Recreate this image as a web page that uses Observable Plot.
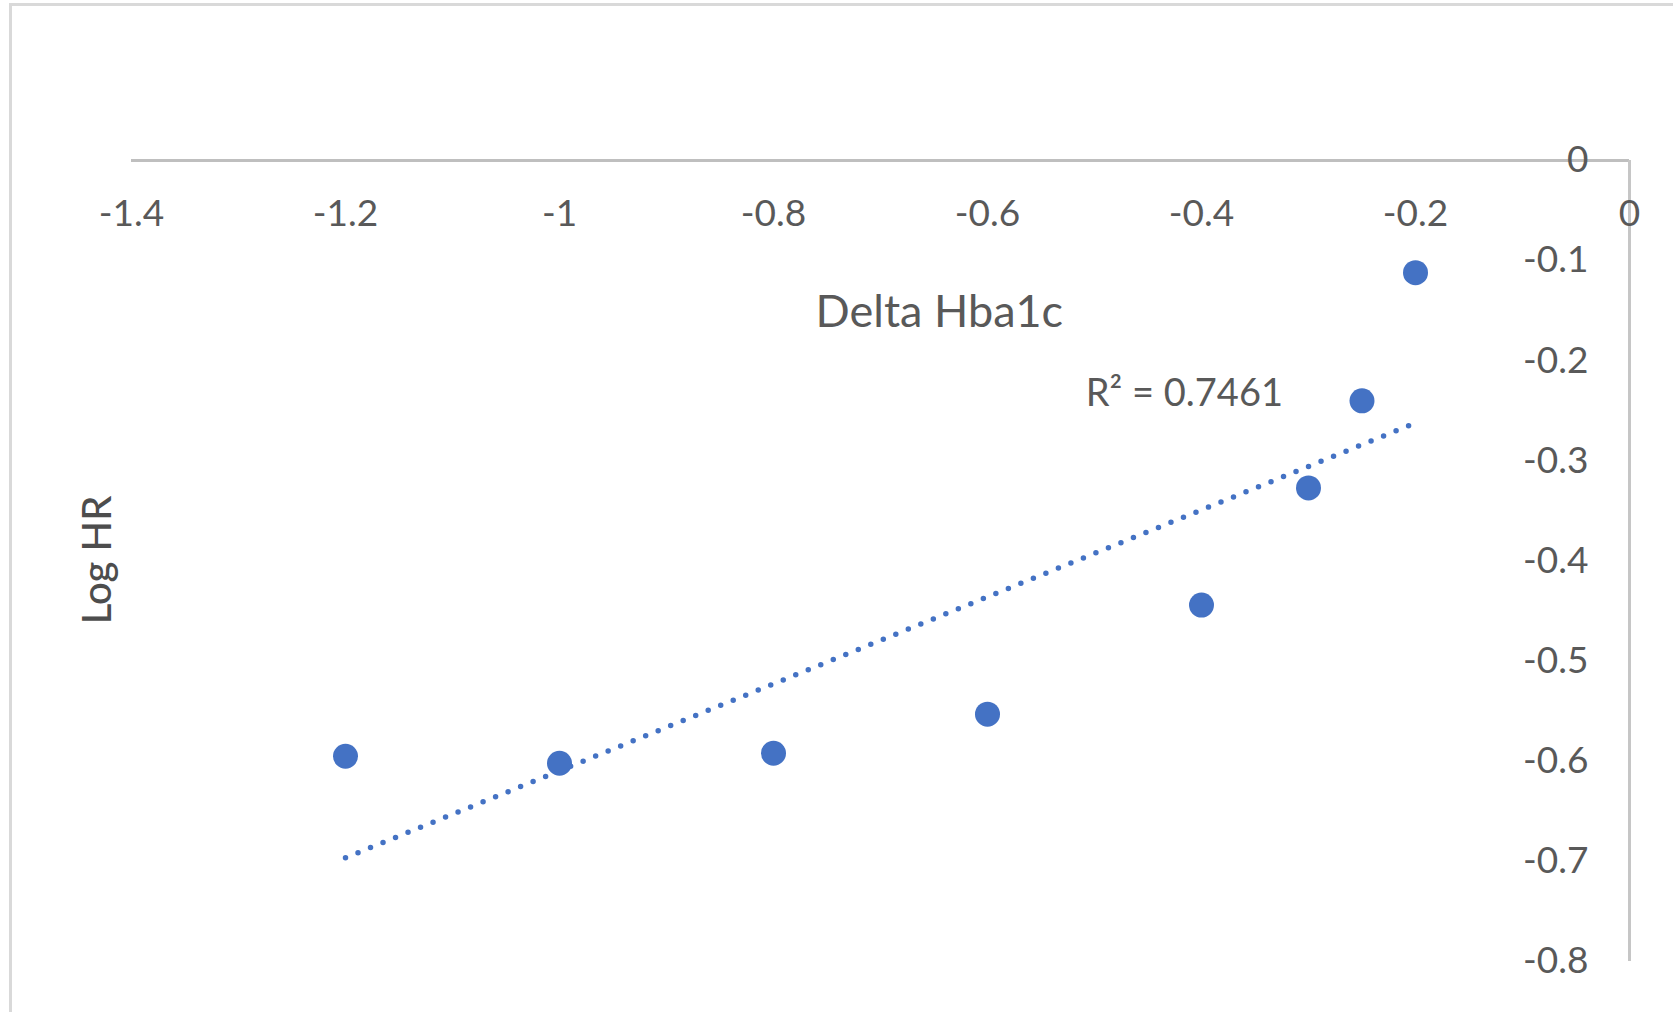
<!DOCTYPE html>
<html>
<head>
<meta charset="utf-8">
<script src="https://cdn.jsdelivr.net/npm/d3@7"></script>
<script src="https://cdn.jsdelivr.net/npm/@observablehq/plot@0.6"></script>
<style>
  html, body { margin: 0; padding: 0; background: #fff; overflow: hidden; }
  #wrap { position: relative; width: 1673px; height: 1012px; }
  #border { position: absolute; left: 9px; top: 3px; width: 1700px; height: 1100px;
            border-left: 3px solid #d9d9d9; border-top: 3px solid #d9d9d9; box-sizing: border-box; }
  svg { position: absolute; left: 0; top: 0; }
</style>
</head>
<body>
<div id="wrap"><div id="border"></div></div>
<script>
const deltaHba1c = [-1.2, -1.0, -0.8, -0.6, -0.4, -0.3, -0.25, -0.2];
const logHR = [-0.595, -0.602, -0.592, -0.553, -0.444, -0.327, -0.240, -0.112];
const xTicks = [-1.4, -1.2, -1.0, -0.8, -0.6, -0.4, -0.2, 0];
const yTicks = [0, -0.1, -0.2, -0.3, -0.4, -0.5, -0.6, -0.7, -0.8];
const xTitle = "Delta Hba1c";
const yTitle = "Log HR";
const r2Text = "R\u00B2 = 0.7461";

const data = deltaHba1c.map((x, i) => ({x, y: logHR[i]}));
const fmt = d => String(d);

const blue = "#4472C4";
const grayText = "#595959";
const font = "Lato, 'Open Sans', sans-serif";

const chart = Plot.plot({
  width: 1673,
  height: 1012,
  marginLeft: 131,
  marginRight: 44,
  marginTop: 160,
  marginBottom: 51,
  style: {fontFamily: font, background: "transparent", overflow: "visible"},
  x: {domain: [-1.4, 0], axis: null},
  y: {domain: [-0.8, 0], axis: null},
  marks: [
    Plot.ruleY([0], {x1: -1.4, x2: 0, stroke: "#bfbfbf", strokeWidth: 3}),
    Plot.ruleX([0], {y1: 0, y2: -0.8, stroke: "#c6c6c6", strokeWidth: 3}),
    Plot.text(xTicks, {x: d => d, y: 0, dy: 54, text: d => fmt(d), fill: grayText, fontSize: 37, textAnchor: "middle"}),
    Plot.text(yTicks, {x: 0, y: d => d, dx: -41, text: d => fmt(d), fill: grayText, fontSize: 37, textAnchor: "end"}),
    Plot.linearRegressionY(data, {x: "x", y: "y", ci: 0, stroke: blue, strokeWidth: 5.5, strokeDasharray: "0 13.5", strokeLinecap: "round"}),
    Plot.dot(data, {x: "x", y: "y", r: 12.5, fill: blue, stroke: "none"}),
    Plot.text([xTitle], {x: -0.645, y: -0.152, text: d => d, fill: grayText, fontSize: 45, textAnchor: "middle"}),
    Plot.text([yTitle], {x: -1.431, y: -0.399, text: d => d, fill: "#4d4d4d", fontSize: 40, fontWeight: 500, rotate: -90, textAnchor: "middle"}),
    Plot.text([r2Text], {x: -0.416, y: -0.233, text: d => d, fill: grayText, fontSize: 38, textAnchor: "middle"})
  ]
});
document.getElementById("wrap").appendChild(chart);
</script>
</body>
</html>
